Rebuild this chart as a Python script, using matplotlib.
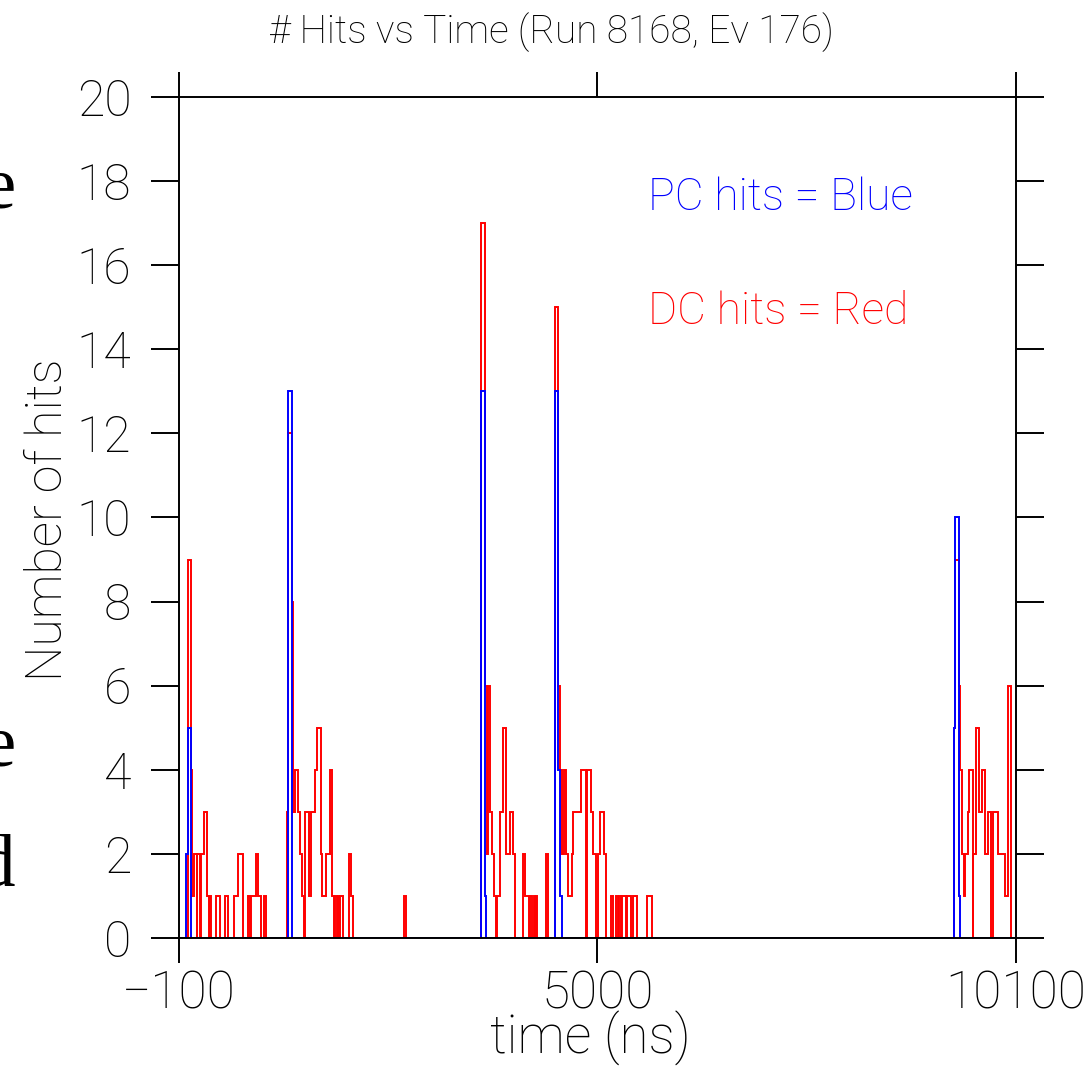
import matplotlib
matplotlib.use("Agg")
import matplotlib.pyplot as plt

# hit counts as steps: each count holds from its start time (ns) to the next start
pc_start = [-100, -10, 10, 50, 1230, 1280, 3580, 3630, 3650,
            4480, 4520, 4540, 4570, 9340, 9360, 9400, 9420]
pc_count = [0, 2, 5, 0, 13, 0, 13, 1, 0,
            13, 4, 1, 0, 5, 10, 1, 0]

dc_start = [-100, 10, 50, 70, 90, 120, 130, 160, 170, 210, 250, 270, 280, 300,
            360, 400, 470, 500, 580, 620, 680, 740, 770, 780, 840, 870, 900,
            940, 970,
            1220, 1230, 1280, 1300, 1320, 1350, 1380, 1400, 1430, 1440, 1490,
            1510, 1560, 1590, 1630, 1650, 1690, 1750, 1770, 1790, 1810, 1830,
            1840, 1860, 1870, 1900, 1970, 2000, 2020, 2640, 2670,
            3580, 3630, 3660, 3670, 3690, 3720, 3740, 3770, 3780, 3820, 3850,
            3890, 3940, 3970, 4000, 4100, 4120, 4170, 4180, 4200, 4230, 4240,
            4250, 4270, 4370, 4400,
            4480, 4520, 4540, 4570, 4600, 4620, 4640, 4690, 4700, 4800, 4860,
            4880, 4920, 4950, 4980, 5010, 5030, 5080, 5100, 5170, 5190, 5230,
            5250, 5260, 5290, 5300, 5350, 5360, 5410, 5440, 5480, 5600, 5670,
            9340, 9360, 9400, 9420, 9440, 9460, 9480, 9510, 9530, 9570, 9580,
            9610, 9650, 9680, 9720, 9760, 9790, 9800, 9820, 9880, 9970, 10000,
            10040]
dc_count = [0, 9, 4, 1, 2, 0, 2, 0, 2, 3, 1, 0, 1, 0,
            1, 0, 1, 0, 1, 2, 0, 1, 0, 1, 2, 1, 0,
            1, 0,
            3, 12, 8, 3, 4, 3, 2, 1, 0, 3, 1,
            3, 4, 5, 2, 1, 2, 4, 1, 0, 1, 0,
            1, 0, 1, 0, 2, 1, 0, 1, 0,
            17, 6, 2, 6, 3, 2, 1, 0, 1, 3, 5,
            2, 3, 2, 0, 2, 1, 0, 1, 0, 1, 0,
            1, 0, 2, 0,
            15, 6, 4, 2, 4, 2, 1, 2, 3, 4, 0,
            4, 3, 2, 0, 2, 3, 2, 0, 1, 0, 1,
            0, 1, 0, 1, 0, 1, 0, 1, 0, 1, 0,
            5, 9, 6, 4, 2, 1, 2, 3, 4, 0, 2,
            5, 3, 4, 2, 3, 2, 0, 3, 2, 1, 6,
            0]

t_min, t_max = -100, 10100
x_ticks = [-100, 5000, 10100]
y_ticks = list(range(0, 21, 2))

font = 'Roboto'
plt.rcParams['font.family'] = [font, 'DejaVu Sans']

fig = plt.figure(figsize=(10.86, 10.67), dpi=100)
ax = fig.add_axes([0.1644, 0.1209, 0.7712, 0.7882])

ax.stairs(dc_count, dc_start + [t_max], color='red', lw=1.4)
ax.stairs(pc_count, pc_start + [t_max], color='blue', lw=1.4)

ax.set_xlim(t_min, t_max)
ax.set_ylim(0, 20)
ax.set_xticks(x_ticks)
ax.set_yticks(y_ticks)
for s in ax.spines.values():
    s.set_linewidth(1.4)
ax.tick_params(axis='y', which='both', left=True, right=True, direction='out',
               length=20, width=1.4, pad=14, labelsize=36)
ax.tick_params(axis='x', which='both', bottom=True, top=True, direction='out',
               length=18, width=1.4, pad=5, labelsize=37)
for lab in ax.get_xticklabels() + ax.get_yticklabels():
    lab.set_fontweight('light')

ax.text(5614, 17.6, 'PC hits = Blue', color='blue', fontsize=32,
        fontweight='light', va='center', ha='left')
ax.text(5614, 14.9, 'DC hits = Red', color='red', fontsize=32,
        fontweight='light', va='center', ha='left')

fig.text(551 / 1086, 1 - 32 / 1067, '# Hits vs Time (Run 8168, Ev 176)',
         fontsize=28, fontweight='light', ha='center', va='center')
fig.text(590 / 1086, 1 - 1054 / 1067, 'time (ns)', fontsize=38,
         fontweight='light', ha='center', va='baseline')
fig.text(48 / 1086, 1 - 520 / 1067, 'Number of hits', fontsize=36,
         fontweight='light', rotation=90, ha='center', va='center')

# bits of slide text cut off at the left edge, as in the source image
for ch, y in [('e', 190), ('e', 748), ('d', 868)]:
    fig.text(15 / 1086, 1 - y / 1067, ch, family='Liberation Serif',
             fontsize=54, ha='right', va='center')

fig.savefig('out.png', dpi=100)
